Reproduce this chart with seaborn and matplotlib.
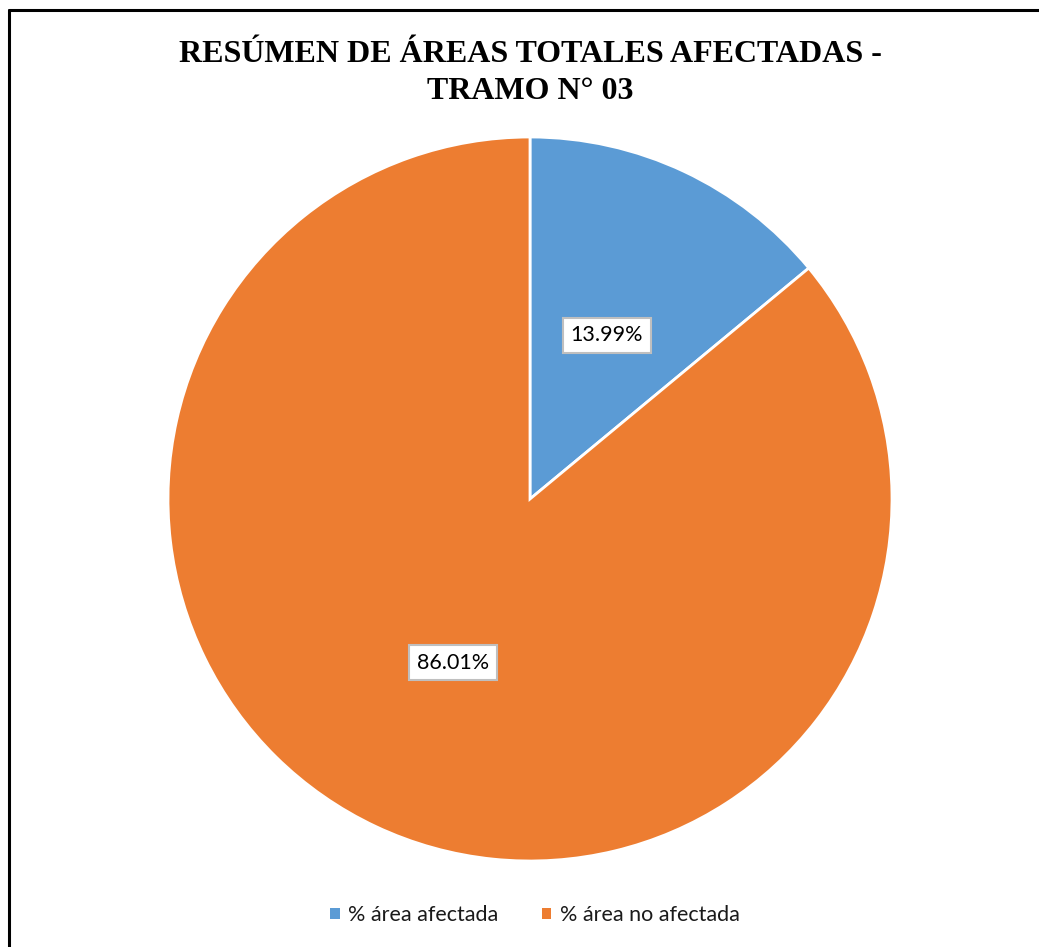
import matplotlib
matplotlib.use("Agg")
import matplotlib.pyplot as plt
import seaborn as sns
from matplotlib.lines import Line2D
from matplotlib.patches import Patch

categories = ["% área afectada", "% área no afectada"]
values = [13.99, 86.01]
colors = ["#5B9BD5", "#ED7D31"]
title = "RESÚMEN DE ÁREAS TOTALES AFECTADAS -\nTRAMO N° 03"

sns.set_theme(style="white")
plt.rcParams["font.family"] = ["Lato", "DejaVu Sans"]
plt.rcParams["text.color"] = "black"

fig = plt.figure(figsize=(10.39, 9.47), dpi=100)
fig.patch.set_facecolor("white")

# Square axes holding the pie
W, H = 1039, 947
cx, cy, r = 530, 499, 362
ax = fig.add_axes([(cx - r) / W, 1 - (cy + r) / H, 2 * r / W, 2 * r / H])

wedges, texts, autotexts = ax.pie(
    values,
    colors=colors,
    startangle=90,
    counterclock=False,
    autopct=lambda p: f"{p:.2f}%",
    pctdistance=0.5,
    radius=1.0,
    wedgeprops=dict(edgecolor="white", linewidth=2),
    textprops=dict(fontsize=15.5, color="black"),
)
for t in autotexts:
    t.set_bbox(dict(boxstyle="square,pad=0.35", facecolor="white",
                    edgecolor="#BFBFBF", linewidth=1.5))
ax.set_xlim(-1, 1)
ax.set_ylim(-1, 1)
ax.set_aspect("equal")
ax.axis("off")

fig.text(530 / W, 1 - 73 / H, title, ha="center", va="center",
         family="Liberation Serif", fontweight="bold", fontsize=23,
         linespacing=1.38, color="black")

handles = [Patch(facecolor=c, edgecolor="none") for c in colors]
fig.legend(handles, categories, loc="center", bbox_to_anchor=(535 / W, 1 - 915 / H),
           ncol=2, frameon=False, fontsize=15.5, handlelength=0.45, handleheight=0.45,
           handletextpad=0.4, columnspacing=2.0, labelcolor="#1a1a1a")

# Frame lines along the top and left edges
fig.add_artist(Line2D([8.5 / W, 1], [1 - 10.5 / H, 1 - 10.5 / H],
                      transform=fig.transFigure, color="black", linewidth=2.2))
fig.add_artist(Line2D([8.5 / W, 8.5 / W], [0, 1 - 10.5 / H],
                      transform=fig.transFigure, color="black", linewidth=2.2))

fig.savefig("out.png", dpi=100, facecolor="white")
